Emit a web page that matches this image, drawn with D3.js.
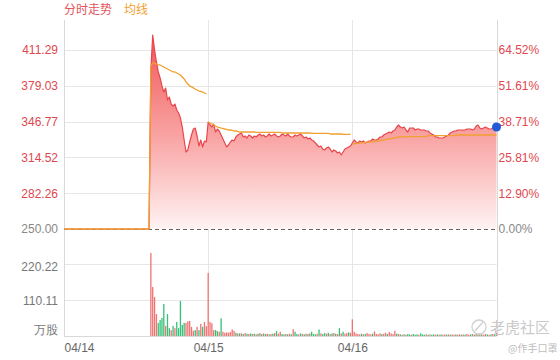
<!DOCTYPE html>
<html><head><meta charset="utf-8">
<script src="https://cdn.jsdelivr.net/npm/d3@7"></script>
<style>body{margin:0;background:#fff}svg{display:block;font-family:"Liberation Sans","Noto Sans CJK SC",sans-serif}</style>
</head><body><svg id="c" width="560" height="360"></svg>
<script>
// ---------- data ----------
const dates = ["04/14", "04/15", "04/16"];
const basePrice = 250;
const priceTicks = [250, 282.26, 314.52, 346.77, 379.03, 411.29];
const volTicks = [0, 110.11, 220.22];

const priceDay1 = [250,250,250,250,250,250,250,250,250,250,250,250,250,250,250,250,250,250,250,250,
 250,250,250,250,250,250,250,250,250,250,250,250,250,250,250,250,250,250,250,250,250,250,250,250,250,250,250,
 393.3,424.8,411.3,400.5,391.5,386.1,378.9,373.4,377.0,366.2,368.9,362.6,360.8,362.6,357.2,354.5,350.0,341.9,
 330.2,319.4,321.2,328.4,334.7,340.1,341.0,333.8,324.8,330.2,323.9,329.3,328.4];
const priceDay2 = [346.4,343.7,341.9,344.6,337.4,340.1,338.3,334.7,331.1,327.5,
 323.9,325.7,328.4,330.2,329.3,332.9,334.7,335.6,336.5,332.9,
 333.8,332.0,334.7,333.8,332.0,333.8,332.9,334.7,335.6,333.8,
 334.7,332.9,333.8,335.6,333.8,334.7,335.6,333.8,332.9,333.8,
 335.6,334.7,333.8,335.6,333.8,332.9,332.9,334.7,333.8,334.7,
 335.6,333.8,332.0,332.9,331.1,332.0,330.2,329.3,327.5,325.7,
 323.9,324.8,322.1,321.2,323.0,323.9,322.1,319.4,321.2,320.3,
 318.5,319.4,316.7,319.4,322.1,323.0,323.9,324.8];
const priceDay3 = [327.5,330.2,328.4,327.5,329.3,328.4,329.3,327.5,328.4,329.3,
 329.3,331.1,330.2,330.2,331.1,332.9,332.9,334.7,335.6,336.5,
 337.4,336.5,338.3,339.2,341.9,343.7,341.9,341.0,341.9,339.2,
 337.4,341.0,341.0,341.0,339.2,340.1,340.1,339.2,339.2,339.2,
 338.3,338.3,336.5,335.6,334.7,332.9,332.9,332.0,332.0,332.0,
 332.9,333.8,334.7,336.5,337.4,338.3,338.3,339.2,339.2,339.2,
 339.2,339.2,340.1,340.1,340.1,339.2,340.1,342.8,343.7,341.0,
 340.1,341.0,341.9,341.0,340.1,340.1,341.0,340.1,341.9];

const avgDay1 = [250,250,250,250,250,250,250,250,250,250,250,250,250,250,250,250,250,250,250,250,
 250,250,250,250,250,250,250,250,250,250,250,250,250,250,250,250,250,250,250,250,250,250,250,250,250,250,250,
 396.9,399.6,399.6,398.7,397.8,397.8,396.9,396.0,395.1,394.2,393.3,392.4,391.5,391.5,390.6,389.7,388.8,387.0,
 385.2,382.5,380.7,378.9,378.0,377.1,376.1,375.2,374.3,373.9,373.4,372.5,371.6];
const avgDay2 = [346.4,345.5,344.6,343.7,342.8,341.9,341.5,341.0,340.6,340.1,339.7,339.2,339.2,338.8,338.3,338.3,337.9,337.4,
 337.4,337.4,337.4,337.4,337.4,337.4,337.4,337.4,
 337.0,337.0,337.0,337.0,337.0,337.0,337.0,337.0,337.0,337.0,337.0,337.0,337.0,337.0,
 336.5,336.5,336.5,336.5,336.5,336.5,336.5,336.5,336.5,336.5,336.5,336.5,336.5,336.5,336.5,336.5,
 336.1,336.1,336.1,336.1,336.1,336.1,336.1,336.1,336.1,336.1,
 335.6,335.6,335.6,335.6,335.6,335.6,335.6,
 335.2,335.2,335.2,335.2,335.2];
const avgDay3 = [326.6,326.6,327.1,327.1,327.5,327.5,327.9,327.9,328.4,328.4,328.4,328.8,328.8,329.3,329.3,
 329.7,330.2,330.2,330.6,331.1,331.1,331.5,332.0,332.0,332.4,332.9,332.9,332.9,333.1,333.1,
 333.3,333.3,333.3,333.3,333.3,333.3,333.3,333.3,333.3,333.3,333.3,
 334.2,334.2,334.2,334.2,334.2,334.2,334.2,334.2,334.2,334.2,334.2,334.2,334.2,334.2,334.2,
 334.7,334.7,334.7,334.7,334.7,334.7,334.7,334.7,334.7,334.7,334.7,334.7,334.7,334.7,334.7,334.7,
 334.7,334.7,334.7,334.7,334.7,334.7,334.7];

const volDay1 = [0,0,0,0,0,0,0,0,0,0,0,0,0,0,0,0,0,0,0,0,0,0,0,0,0,0,0,0,0,0,0,0,0,0,0,0,0,0,0,0,0,0,0,0,0,0,0,
 254,150,119,67,40,49,55,98,31,67,24,18,31,24,43,24,107,34,40,40,45,46,28,16,18,28,18,37,28,43,30];
const volDay2 = [193,43,39,18,18,15,13,54,13,10, 11,10,12,20,16,10,8,8,8,6, 9,7,6,8,6,7,5,7,9,6,
 8,6,7,5,6,7,9,15,7,13, 6,5,6,5,7,5,21,13,6,5, 8,6,5,7,6,8,13,6,5,7,
 20,8,6,9,7,10,6,8,9,7, 6,24,8,13,7,9,11,10];
const volDay3 = [51,13,8,6,5,7,5,6,9,6, 5,7,14,6,5,8,6,7,10,6, 12,8,6,16,7,6,5,4,5,4,
 6,5,4,6,4,5,4,8,5,4, 5,4,5,4,5,4,5,4,5,4, 5,4,5,4,5,4,5,4,5,4,
 5,4,6,4,5,6,4,8,5,6, 5,4,6,5,4,5,6,5,10];
// r = up (red), g = down (green)
const volDir1 = "rrrrrrrrrrrrrrrrrrrrrrrrrrrrrrrrrrrrrrrrrrrrrrr" + "rrrrggggrggrgrgggggrrrrrgrgrgrr";
const volDir2 = "rrrrggrgrrrrrrrgrgrgrgrgrgrgrgrgrgrgrgrrggrgrgrggrgrgrgrgggrgrggrgrgrgrgrgrrgrrr";
const volDir3 = "rrrgrgrrrgrrrrgrrgrrrrgrgrgrggrgggrgggrgrggrgrgrrgrgrrgrrgrgrrgrgrgrgrrgrgrgrrr";

// ---------- build ----------
const price = priceDay1.concat(priceDay2, priceDay3);
const vols = volDay1.concat(volDay2, volDay3);
const dirs = (volDir1 + volDir2 + volDir3).split("");
const avgSegs = [{off: 0, v: avgDay1}, {off: priceDay1.length, v: avgDay2}, {off: priceDay1.length + priceDay2.length, v: avgDay3}];

const svg = d3.select("#c");
const L = 64, R = 496.5, TOP = 20, VB = 336;
const x = d3.scaleLinear().domain([0, price.length - 1]).range([L, R]);
const xDay = d3.scaleLinear().domain([0, 3]).range([L, R]);
const y = d3.scaleLinear().domain([250, 411.29]).range([229, 50]);
const yv = d3.scaleLinear().domain([0, 220.22]).range([VB, 264]);

const defs = svg.append("defs");
const grad = defs.append("linearGradient").attr("id", "fillg")
  .attr("gradientUnits", "userSpaceOnUse").attr("x1", 0).attr("x2", 0).attr("y1", TOP).attr("y2", y(250));
grad.append("stop").attr("offset", 0).attr("stop-color", "#ee4c4c");
grad.append("stop").attr("offset", 0.55).attr("stop-color", "#f9a2a2");
grad.append("stop").attr("offset", 1).attr("stop-color", "#fff3f3");

// grid
const grid = svg.append("g").attr("stroke", "#e6e6e6").attr("stroke-width", 1);
priceTicks.slice(1).forEach(t => grid.append("line").attr("x1", L).attr("x2", R).attr("y1", Math.round(y(t)) + 0.5).attr("y2", Math.round(y(t)) + 0.5));
volTicks.slice(1).forEach(t => grid.append("line").attr("x1", L).attr("x2", R).attr("y1", Math.round(yv(t)) + 0.5).attr("y2", Math.round(yv(t)) + 0.5));
[1, 2].forEach(d => grid.append("line").attr("x1", Math.round(xDay(d)) + 0.5).attr("x2", Math.round(xDay(d)) + 0.5).attr("y1", TOP).attr("y2", VB));
const frame = svg.append("g").attr("stroke", "#d9d9d9").attr("stroke-width", 1);
frame.append("line").attr("x1", L + 0.5).attr("x2", L + 0.5).attr("y1", TOP).attr("y2", VB);
frame.append("line").attr("x1", Math.round(R) + 0.5).attr("x2", Math.round(R) + 0.5).attr("y1", TOP).attr("y2", VB);
frame.append("line").attr("x1", L).attr("x2", R).attr("y1", VB + 0.5).attr("y2", VB + 0.5);

// area + lines
svg.append("path").datum(price)
  .attr("d", d3.area().x((d, i) => x(i)).y0(y(basePrice)).y1(d => y(d)))
  .attr("fill", "url(#fillg)");
svg.append("line").attr("x1", L).attr("x2", R).attr("y1", y(basePrice) + 0.5).attr("y2", y(basePrice) + 0.5)
  .attr("stroke", "#666").attr("stroke-dasharray", "4,3");
svg.append("path").datum(price)
  .attr("d", d3.line().x((d, i) => x(i)).y(d => y(d)))
  .attr("fill", "none").attr("stroke", "#e8454c").attr("stroke-width", 1.2).attr("stroke-linejoin", "round");
avgSegs.forEach(s => {
  svg.append("path").datum(s.v)
    .attr("d", d3.line().x((d, i) => x(i + s.off)).y(d => y(d)))
    .attr("fill", "none").attr("stroke", "#f0a032").attr("stroke-width", 1.3).attr("stroke-linejoin", "round");
});

// volume
svg.append("g").selectAll("rect").data(vols).join("rect")
  .attr("x", (d, i) => x(i) - 0.65).attr("width", 1.3)
  .attr("y", d => yv(d)).attr("height", d => VB - yv(d))
  .attr("fill", (d, i) => dirs[i] === "g" ? "#35c077" : "#f07272");

// axes
const fs = 12;
const ga = svg.append("g").attr("transform", `translate(${L},0)`)
  .call(d3.axisLeft(y).tickValues(priceTicks).tickSize(0).tickPadding(6).tickFormat(d3.format(".2f")));
ga.select(".domain").remove();
ga.selectAll("text").attr("font-size", fs).attr("font-family", null).attr("fill", d => d === basePrice ? "#888" : "#e0474f");

const gr = svg.append("g").attr("transform", `translate(${R},0)`)
  .call(d3.axisRight(y).tickValues(priceTicks).tickSize(0).tickPadding(2).tickFormat(d => ((d / basePrice - 1) * 100).toFixed(2) + "%"));
gr.select(".domain").remove();
gr.selectAll("text").attr("font-size", fs).attr("font-family", null).attr("fill", d => d === basePrice ? "#888" : "#e0474f");

const gv = svg.append("g").attr("transform", `translate(${L},0)`)
  .call(d3.axisLeft(yv).tickValues(volTicks).tickSize(0).tickPadding(6).tickFormat(d => d === 0 ? "万股" : d3.format(".2f")(d)));
gv.select(".domain").remove();
gv.selectAll("text").attr("font-size", fs).attr("font-family", null).attr("fill", "#777")
  .attr("transform", d => d === 0 ? "translate(0,-6)" : d === 220.22 ? "translate(0,3)" : "translate(0,1)");

const gx = svg.append("g").attr("transform", `translate(0,${VB})`)
  .call(d3.axisBottom(xDay).tickValues([0, 1, 2]).tickSize(0).tickPadding(7).tickFormat(i => dates[i]));
gx.select(".domain").remove();
gx.selectAll("text").attr("font-size", fs).attr("font-family", null).attr("fill", "#666")
  .attr("text-anchor", d => d === 0 ? "start" : "middle");

// legend
svg.append("text").attr("x", L).attr("y", 14).attr("font-size", fs).attr("fill", "#e0545c").text("分时走势");
svg.append("text").attr("x", 124).attr("y", 14).attr("font-size", fs).attr("fill", "#f0a032").text("均线");

// last point
svg.append("circle").attr("cx", x(price.length - 1)).attr("cy", y(price[price.length - 1])).attr("r", 4.5).attr("fill", "#1f5bd6");

// watermark
const wm = svg.append("g").attr("fill", "#c9c9c9");
svg.append("circle").attr("cx", 479).attr("cy", 327).attr("r", 7).attr("fill", "none").attr("stroke", "#d0d0d0").attr("stroke-width", 1.3);
svg.append("path").attr("d", "M475,331 L483,322").attr("stroke", "#d0d0d0").attr("stroke-width", 1.3);
wm.append("text").attr("x", 490).attr("y", 333).attr("font-size", 15).attr("font-family", "Noto Sans CJK SC").text("老虎社区");
wm.append("text").attr("x", 508).attr("y", 352).attr("font-size", 10).attr("font-family", "Noto Sans CJK SC").attr("fill", "#bdbdbd").text("@作手口罩");
</script>
</body></html>
